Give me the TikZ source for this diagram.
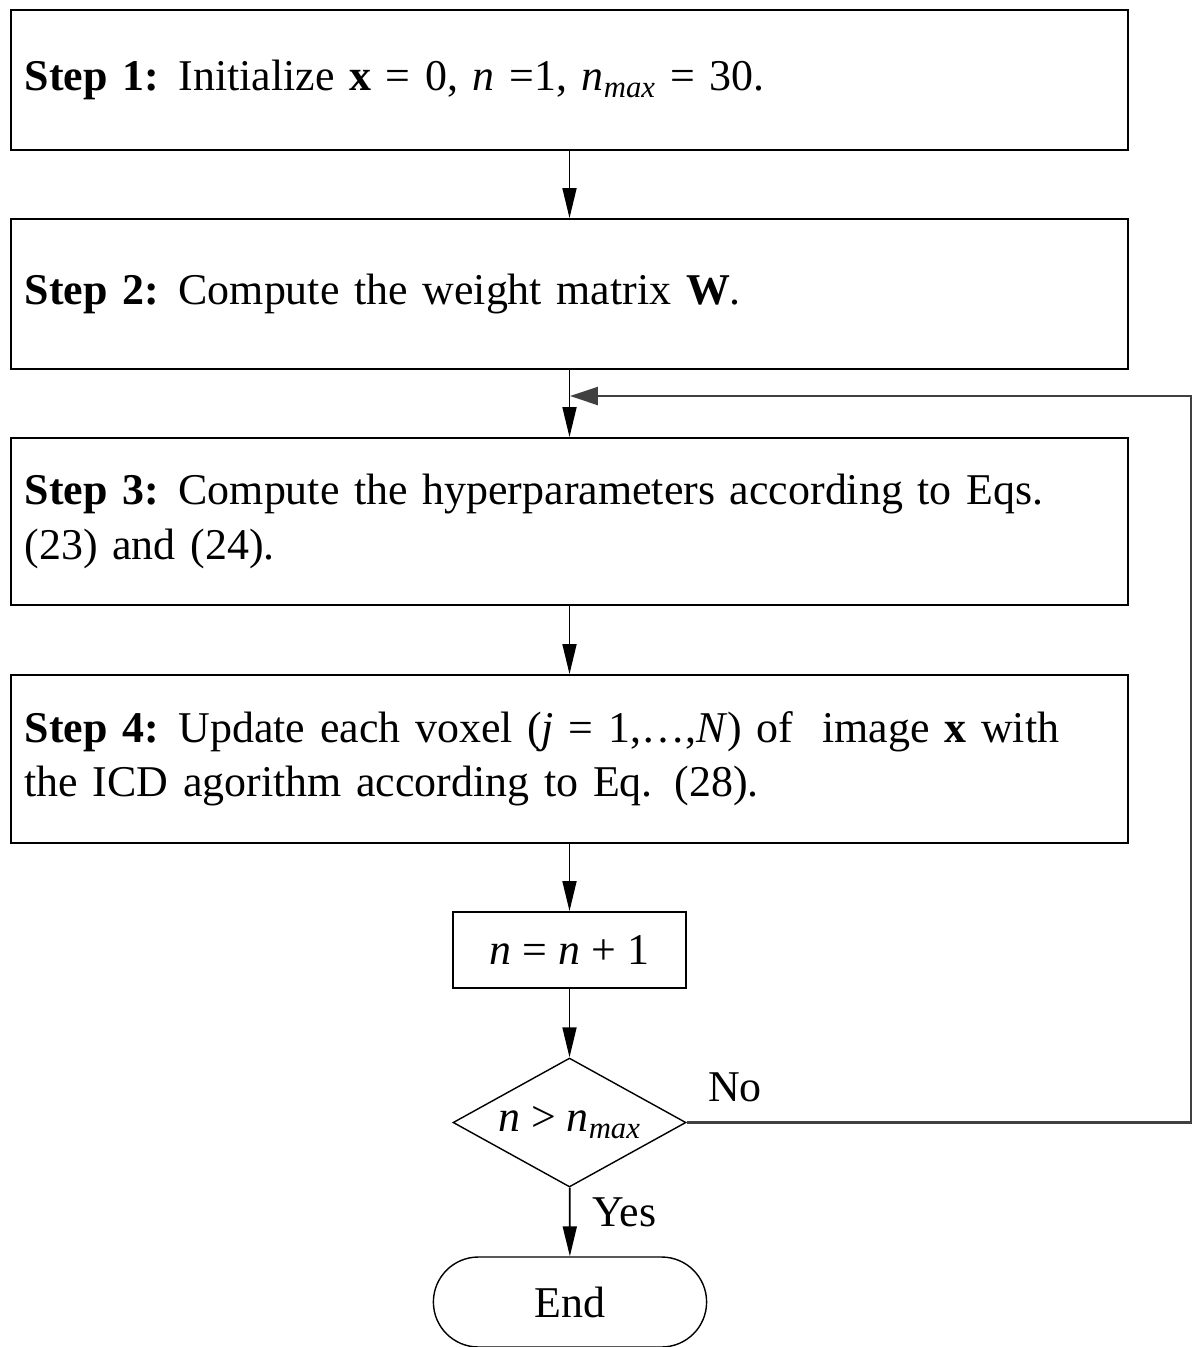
\documentclass[tikz,border=0pt]{standalone}
\usepackage{fontspec}
\setmainfont{Liberation Serif}
\usepackage{tikz}
\usetikzlibrary{shapes.geometric, shapes.misc, arrows.meta, positioning, calc}

\tikzset{
  stepbox/.style={draw, line width=1.1pt, minimum width=22.34cm, text width=21.8cm, align=left, inner sep=0pt},
  smallbox/.style={draw, line width=1.1pt, minimum width=4.66cm, minimum height=1.52cm},
  testbox/.style={draw, diamond, line width=0.8pt, minimum width=4.66cm, minimum height=2.58cm, inner sep=0pt},
  endbox/.style={draw, rounded rectangle, line width=0.8pt, minimum width=5.7cm, minimum height=1.8cm},
  arr/.style={-{Triangle[length=0.6cm, width=0.28cm]}, line width=1pt},
  looparr/.style={-{Triangle[length=0.56cm, width=0.36cm]}, line width=1.4pt, black!75},
}

\begin{document}
\begin{tikzpicture}[x=0.02cm, y=-0.02cm, font=\fontsize{25}{31}\selectfont]
  \useasboundingbox (0,0) rectangle (1193,1347);
  % steps
  \node[stepbox, minimum height=2.8cm] (init) at (569.5,80) {\textbf{Step 1:}\hspace{0.45em}Initialize \textbf{x} = 0, \textit{n} =1, \textit{n}\textsubscript{\textit{max}} = 30.};
  \node[stepbox, minimum height=3.0cm] (weight) at (569.5,294) {\textbf{Step 2:}\hspace{0.45em}Compute the weight matrix \textbf{W}.};
  \node[stepbox, minimum height=3.34cm] (hyper) at (569.5,521.5) {\textbf{Step 3:}\hspace{0.45em}Compute the hyperparameters according to Eqs.\\(23) and (24).};
  \node[stepbox, minimum height=3.36cm] (update) at (569.5,759) {\textbf{Step 4:}\hspace{0.45em}Update each voxel (\textit{j} = 1,\dots,\textit{N}) of\ \ image \textbf{x} with\\the ICD agorithm according to Eq. (28).};
  \node[smallbox] (incr) at (569.5,950) {\textit{n} = \textit{n} + 1};
  % test
  \node[testbox] (check) at (569.5,1122.5) {};
  \node (checktext) at (check) {\textit{n} > \textit{n}\textsubscript{\textit{max}}};
  \node[endbox] (stop) at (570,1302) {End};
  \node (no) at (735,1087) {No};
  \node[anchor=west] (yes) at (586,1212) {Yes};
  \coordinate (join) at (570,396);
  \coordinate (loopx) at (1191,396);

  \draw[arr] (init) -- (weight);
  \draw[arr] (weight) -- (hyper);
  \draw[arr] (hyper) -- (update);
  \draw[arr] (update) -- (incr);
  \draw[arr] (incr) -- (check);
  \draw[arr] (check) -- (stop);
  \draw[looparr] (check.east) -- (check.east -| loopx) |- (join);
\end{tikzpicture}
\end{document}
